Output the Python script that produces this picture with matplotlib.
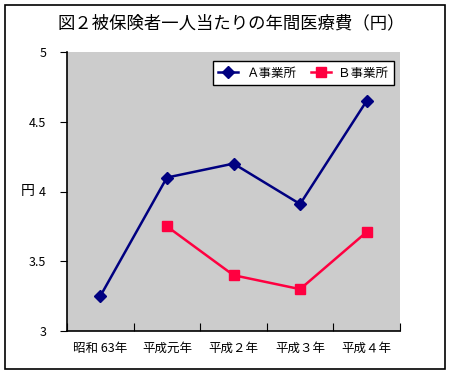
import matplotlib
matplotlib.use("Agg")
import matplotlib.pyplot as plt
import numpy as np
from matplotlib.patches import Rectangle

plt.rcParams['font.family'] = ['Noto Sans CJK JP', 'DejaVu Sans']

categories = ["昭和 63年", "平成元年", "平成２年", "平成３年", "平成４年"]
series_a = [3.25, 4.10, 4.20, 3.91, 4.65]
series_b = [np.nan, 3.75, 3.40, 3.30, 3.71]
series_names = ["Ａ事業所", "Ｂ事業所"]
title = "図２被保険者一人当たりの年間医療費（円）"
y_ticks = [3, 3.5, 4, 4.5, 5]
y_tick_labels = ["3", "3.5", "4", "4.5", "5"]

fig = plt.figure(figsize=(4.5, 3.75), dpi=100)
fig.patches.append(Rectangle((5/450, 1-369/375), 440/450, 364/375, transform=fig.transFigure,
                             fill=False, edgecolor='black', linewidth=1.2))

ax = fig.add_axes([67/450, 1-331/375, 333/450, 279/375])
ax.set_facecolor('#CCCCCC')
x = np.arange(len(categories)) + 0.5
ax.plot(x, series_a, color='#000080', marker='D', markersize=6.5, linewidth=1.8,
        label=series_names[0])
ax.plot(x, series_b, color='#FF0040', marker='s', markersize=6.5, linewidth=1.8,
        label=series_names[1])

ax.set_xlim(0, len(categories))
ax.set_ylim(3, 5)
ax.set_yticks(y_ticks)
ax.set_yticklabels(y_tick_labels, fontsize=9)
ax.set_xticks(np.arange(len(categories) + 1))
ax.set_xticklabels([])
ax.set_xticks(x, minor=True)
ax.set_xticklabels(categories, minor=True, fontsize=9)
ax.tick_params(axis='x', which='major', direction='in', length=6, color='black')
ax.tick_params(axis='x', which='minor', length=0, pad=8)
ax.tick_params(axis='y', direction='out', length=5, pad=10)
for s in ['top', 'right']:
    ax.spines[s].set_visible(False)
for s in ['left', 'bottom']:
    ax.spines[s].set_linewidth(1.2)

ax.set_ylabel("円", rotation=0, fontsize=10, va='center', ha='center')
ax.yaxis.set_label_coords(-0.117, 0.5)

fig.text(231/450, 1-23/375, title, ha='center', va='center', fontsize=12.5)

leg = ax.legend(loc='upper right', ncol=2, fontsize=9, frameon=True, fancybox=False,
                edgecolor='black', facecolor='white', framealpha=1,
                bbox_to_anchor=(1.0, 0.99), handlelength=1.6, columnspacing=1.2,
                handletextpad=0.6, borderpad=0.45)
leg.get_frame().set_linewidth(1.0)

fig.savefig("out.png", dpi=100)
